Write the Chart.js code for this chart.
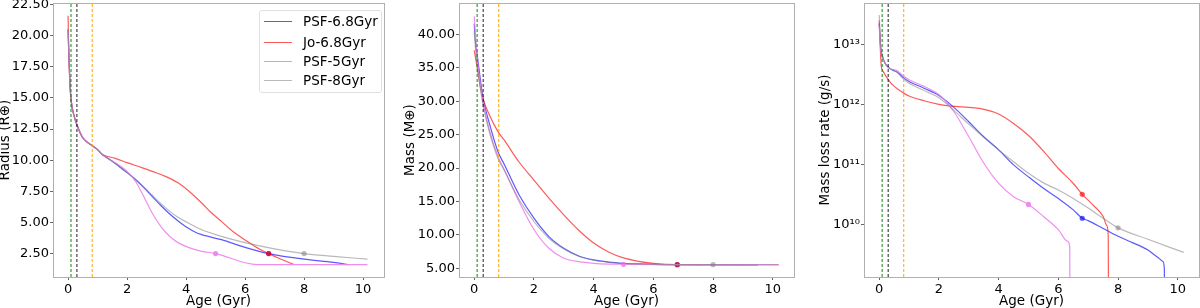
<!DOCTYPE html>
<html>
<head>
<meta charset="utf-8">
<script src="https://cdn.jsdelivr.net/npm/chart.js@4/dist/chart.umd.min.js"></script>
<style>
  body { margin: 0; width: 1200px; height: 308px; overflow: hidden; background: #fff; position: relative; font-family: "DejaVu Sans", sans-serif; }
  canvas { position: absolute; top: 0; }
  #legend { position: absolute; left: 259px; top: 10px; width: 123px; height: 83px; box-sizing: border-box;
            border: 1px solid #e0e0e0; border-radius: 3px; background: rgba(255,255,255,0.8); font-size: 13.5px; }
  #legend .row { position: absolute; left: 0; height: 16px; }
  #legend .swatch { position: absolute; left: 4px; top: 7px; width: 28px; height: 0; border-top-width: 1.5px; border-top-style: solid; }
  #legend .txt { position: absolute; left: 43px; top: -1px; white-space: nowrap; color: #000; }
</style>
</head>
<body>
<canvas id="radiusChart" width="398" height="308" style="left:-3px"></canvas>
<canvas id="massChart" width="398" height="308" style="left:402px"></canvas>
<canvas id="mlrChart" width="383" height="308" style="left:817px"></canvas>
<div id="legend"></div>
<script>
// -------- SERIES --------
const labels = ["PSF-6.8Gyr", "Jo-6.8Gyr", "PSF-5Gyr", "PSF-8Gyr"];
const colors = ["rgba(0,0,255,0.65)", "rgba(255,0,0,0.65)", "rgba(238,130,238,0.9)", "rgba(128,128,128,0.55)"];
const markerAge = [6.8, 6.8, 5, 8];

// vertical dashed lines (Gyr)
const vLines = [0.1, 0.3, 0.82];
const vColors = ["rgba(0,128,0,0.6)", "rgba(0,0,0,0.8)", "rgba(255,165,0,0.9)"];

const ageTicks = [0, 2, 4, 6, 8, 10];
const radiusTicks = [2.5, 5, 7.5, 10, 12.5, 15, 17.5, 20, 22.5];
const massTicks = [5, 10, 15, 20, 25, 30, 35, 40];
const mlrTicks = [1e10, 1e11, 1e12, 1e13];
const mlrTickLabels = ["10\u00b9\u2070", "10\u00b9\u00b9", "10\u00b9\u00b2", "10\u00b9\u00b3"];

// -------- RADIUS --------
const radiusAgeBlue = [0, 0.03, 0.06, 0.1, 0.2, 0.3, 0.5, 0.8, 1.0, 1.17, 1.45, 1.73, 2.0, 2.29, 2.57, 2.85, 3.13, 3.41, 3.7, 3.97, 4.25, 4.53, 5.2, 6.0, 6.8, 8.0, 9.0, 9.5];
const radiusBlue    = [20.5, 18.3, 16.4, 14.9, 13.6, 12.85, 11.8, 11.2, 10.85, 10.43, 10.0, 9.5, 9.0, 8.43, 7.8, 7.09, 6.4, 5.76, 5.17, 4.69, 4.3, 4.02, 3.62, 3.0, 2.5, 2.05, 1.8, 1.62];
const radiusAgeRed  = [0, 0.03, 0.06, 0.1, 0.2, 0.3, 0.5, 0.8, 1.0, 1.17, 1.6, 2.0, 2.5, 2.85, 3.3, 3.74, 4.1, 4.53, 4.85, 5.2, 5.6, 6.0, 6.5, 6.8, 7.2, 7.66];
const radiusRed     = [21.6, 18.3, 16.4, 14.9, 13.6, 12.85, 11.8, 11.2, 10.85, 10.45, 10.15, 9.8, 9.4, 9.1, 8.7, 8.16, 7.5, 6.56, 5.8, 5.09, 4.25, 3.6, 2.85, 2.5, 2.07, 1.62];
const radiusAgePink = [0, 0.03, 0.06, 0.1, 0.2, 0.3, 0.5, 0.8, 1.0, 1.17, 1.45, 1.73, 2.0, 2.29, 2.62, 2.85, 3.18, 3.45, 3.74, 4.1, 4.53, 5.0, 6.4, 10.15];
const radiusPink    = [20.5, 18.3, 16.4, 14.9, 13.6, 12.85, 11.8, 11.2, 10.85, 10.43, 10.0, 9.6, 9.1, 8.29, 6.83, 5.76, 4.56, 3.87, 3.36, 2.98, 2.68, 2.5, 1.62, 1.62];
const radiusAgeGray = [0, 0.03, 0.06, 0.1, 0.2, 0.3, 0.5, 0.8, 1.0, 1.17, 1.45, 1.73, 2.0, 2.29, 2.57, 2.85, 3.13, 3.41, 3.7, 4.0, 4.5, 5.0, 5.5, 6.0, 7.0, 8.0, 9.0, 10.15];
const radiusGray    = [20.5, 18.3, 16.4, 14.9, 13.6, 12.85, 11.8, 11.2, 10.85, 10.43, 10.0, 9.52, 9.02, 8.47, 7.86, 7.2, 6.55, 5.97, 5.45, 5.05, 4.45, 4.02, 3.68, 3.38, 2.88, 2.5, 2.28, 2.05];

// -------- MASS --------
const massAgeBlue = [0, 0.05, 0.1, 0.2, 0.3, 0.5, 0.8, 1.0, 1.5, 2.0, 2.5, 3.0, 3.5, 4.0, 4.5, 5.0, 5.5, 6.0, 6.8, 8.0, 9.5];
const massBlue    = [41.6, 38.4, 36.9, 33.4, 30.3, 26.8, 22.4, 20.6, 16.0, 12.5, 9.75, 8.0, 6.85, 6.25, 5.93, 5.75, 5.65, 5.58, 5.54, 5.52, 5.52];
const massAgeRed  = [0, 0.05, 0.1, 0.2, 0.3, 0.5, 0.8, 1.0, 1.5, 2.0, 2.5, 3.0, 3.5, 4.0, 4.5, 5.0, 5.5, 6.0, 6.8, 7.66];
const massRed     = [37.6, 36.3, 35.0, 32.3, 30.3, 28.0, 25.4, 24.2, 20.9, 18.2, 15.5, 13.0, 10.7, 8.8, 7.45, 6.55, 6.05, 5.75, 5.55, 5.53];
const massAgePink = [0, 0.05, 0.1, 0.2, 0.3, 0.5, 0.8, 1.0, 1.5, 2.0, 2.5, 3.0, 3.5, 4.0, 4.5, 5.0, 6.4, 10.2];
const massPink    = [42.7, 39.5, 36.5, 32.5, 29.8, 25.8, 21.7, 19.8, 15.0, 10.8, 8.0, 6.5, 6.0, 5.75, 5.64, 5.6, 5.55, 5.55];
const massAgeGray = [0, 0.05, 0.1, 0.2, 0.3, 0.5, 0.8, 1.0, 1.5, 2.0, 2.5, 3.0, 3.5, 4.0, 4.5, 5.0, 6.0, 8.0, 10.2];
const massGray    = [40.5, 37.5, 35.5, 32.0, 29.3, 25.5, 21.4, 19.7, 15.3, 12.0, 9.5, 7.9, 6.8, 6.2, 5.9, 5.72, 5.6, 5.54, 5.52];

// -------- MASS LOSS RATE (g/s) --------
const mlrAgeBlue = [0, 0.05, 0.1, 0.2, 0.35, 0.5, 0.6, 0.8, 1.0, 1.5, 2.0, 2.5, 3.0, 3.5, 4.0, 4.5, 5.0, 5.5, 6.0, 6.5, 6.8, 7.0, 7.5, 8.0, 8.5, 9.0, 9.3, 9.5, 9.55, 9.56];
const mlrBlue    = [2.24e13, 8.91e12, 6.61e12, 4.79e12, 3.98e12, 3.63e12, 3.47e12, 2.82e12, 2.4e12, 1.86e12, 1.41e12, 8.91e11, 5.13e11, 2.88e11, 1.74e11, 9.77e10, 6.17e10, 3.98e10, 2.69e10, 1.74e10, 1.26e10, 1.15e10, 8.51e9, 6.31e9, 4.9e9, 3.72e9, 2.88e9, 2.4e9, 1.78e9, 3.16e8];
const mlrAgeRed  = [0, 0.03, 0.07, 0.13, 0.24, 0.4, 0.63, 0.85, 1.0, 1.5, 2.0, 2.4, 3.0, 3.4, 4.0, 4.5, 5.0, 5.5, 6.0, 6.5, 6.8, 7.2, 7.5, 7.62, 7.67, 7.68];
const mlrRed     = [2.51e13, 1e13, 4.27e12, 3.55e12, 2.88e12, 2.24e12, 1.78e12, 1.51e12, 1.38e12, 1.15e12, 1e12, 9.33e11, 8.91e11, 8.51e11, 6.92e11, 4.79e11, 3.02e11, 1.66e11, 8.51e10, 4.79e10, 3.16e10, 2e10, 1.35e10, 9.55e9, 6.31e9, 3.16e8];
const mlrAgePink = [0, 0.05, 0.1, 0.2, 0.35, 0.5, 0.6, 0.8, 1.0, 1.5, 1.9, 2.1, 2.5, 3.0, 3.5, 4.0, 4.5, 5.0, 5.5, 6.0, 6.3, 6.38, 6.39];
const mlrPink    = [2e13, 7.94e12, 6.31e12, 4.79e12, 3.98e12, 3.8e12, 3.63e12, 3.02e12, 2.57e12, 2e12, 1.58e12, 1.32e12, 7.59e11, 2.88e11, 1.05e11, 4.79e10, 2.88e10, 2.14e10, 1.35e10, 8.13e9, 5.25e9, 4.27e9, 3.16e8];
const mlrAgeGray = [0, 0.05, 0.1, 0.2, 0.35, 0.6, 0.8, 1.0, 1.5, 2.0, 2.5, 3.0, 3.5, 4.0, 4.5, 5.0, 5.5, 6.0, 6.5, 7.0, 7.5, 8.0, 9.0, 10.2];
const mlrGray    = [3.09e13, 8.91e12, 6.31e12, 4.79e12, 3.98e12, 3.39e12, 2.69e12, 2.24e12, 1.7e12, 1.29e12, 7.94e11, 4.68e11, 2.82e11, 1.74e11, 1.1e11, 7.08e10, 4.9e10, 3.72e10, 2.69e10, 1.86e10, 1.26e10, 8.71e9, 5.62e9, 3.39e9];

// -------- HELPERS --------
const font = { family: "DejaVu Sans", size: 13 };
const titleFont = { family: "DejaVu Sans", size: 13.5 };

function pts(ages, vals) {
    return ages.map((a, i) => ({ x: a, y: vals[i] }));
}

const framePlugin = {
    id: "frame",
    afterDatasetsDraw(chart) {
        const { ctx, chartArea: a } = chart;
        ctx.save();
        ctx.strokeStyle = "#b0b0b0";
        ctx.lineWidth = 1;
        ctx.strokeRect(Math.round(a.left) + 0.5, Math.round(a.top) + 0.5,
            Math.round(a.right - a.left), Math.round(a.bottom - a.top));
        ctx.restore();
    }
};

function makeChart(id, series, cfg) {
    const datasets = series.map((s, k) => ({
        label: labels[k],
        data: pts(s[0], s[1]),
        borderColor: colors[k],
        backgroundColor: colors[k],
        borderWidth: 1.2,
        pointRadius: c => (c.raw && c.raw.x === markerAge[k]) ? 2.6 : 0,
        pointBorderWidth: 0,
        pointHoverRadius: 0,
        cubicInterpolationMode: "monotone",
        order: 4 - k
    }));
    vLines.forEach((a, k) => datasets.push({
        label: "v" + k,
        data: [{ x: a, y: cfg.min }, { x: a, y: cfg.max }],
        borderColor: vColors[k],
        borderWidth: k === 0 ? 1.6 : 1.1,
        borderDash: [3, 2],
        pointRadius: 0,
        order: 0
    }));

    new Chart(document.getElementById(id), {
        type: "line",
        data: { datasets },
        plugins: [framePlugin],
        options: {
            responsive: false,
            animation: false,
            events: [],
            layout: { padding: { top: 3, right: cfg.padRight, left: 0, bottom: 0 } },
            plugins: { legend: { display: false }, tooltip: { enabled: false } },
            scales: {
                x: {
                    type: "linear", min: -0.51, max: 10.71,
                    afterBuildTicks: s => { s.ticks = ageTicks.map(v => ({ value: v })); },
                    afterFit: s => { s.height = 31; s.paddingLeft = 0; s.paddingRight = 0; },
                    ticks: { font, color: "#000", padding: 2, maxRotation: 0, autoSkip: false, callback: v => String(v) },
                    grid: { drawOnChartArea: false, drawTicks: true, tickLength: 3, color: "#666" },
                    border: { display: false },
                    title: { display: true, text: "Age (Gyr)", font: titleFont, color: "#000", padding: { top: 0, bottom: -2 } }
                },
                y: {
                    type: cfg.type, min: cfg.min, max: cfg.max,
                    afterBuildTicks: s => { s.ticks = cfg.ticks.map(v => ({ value: v })); },
                    afterFit: s => { s.width = cfg.yWidth; s.paddingTop = 0; s.paddingBottom = 0; },
                    ticks: { font, color: "#000", padding: 1, autoSkip: false, callback: cfg.fmt },
                    grid: { drawOnChartArea: false, drawTicks: true, tickLength: 3, color: "#666" },
                    border: { display: false },
                    title: { display: true, text: cfg.title, font: titleFont, color: "#000", padding: { top: 0, bottom: 0 } }
                }
            }
        }
    });
}

// -------- CHARTS --------
makeChart("radiusChart", [
    [radiusAgeBlue, radiusBlue], [radiusAgeRed, radiusRed], [radiusAgePink, radiusPink], [radiusAgeGray, radiusGray]
], { type: "linear", min: 0.62, max: 22.62, ticks: radiusTicks, fmt: v => v.toFixed(2),
     title: "Radius (R\u2295)", yWidth: 56, padRight: 11 });

makeChart("massChart", [
    [massAgeBlue, massBlue], [massAgeRed, massRed], [massAgePink, massPink], [massAgeGray, massGray]
], { type: "linear", min: 3.7, max: 44.68, ticks: massTicks, fmt: v => v.toFixed(2),
     title: "Mass (M\u2295)", yWidth: 57, padRight: 6 });

makeChart("mlrChart", [
    [mlrAgeBlue, mlrBlue], [mlrAgeRed, mlrRed], [mlrAgePink, mlrPink], [mlrAgeGray, mlrGray]
], { type: "logarithmic", min: 1.32e9, max: 4.9e13, ticks: mlrTicks, fmt: (v, i) => mlrTickLabels[i],
     title: "Mass loss rate (g/s)", yWidth: 47, padRight: 1 });

// -------- LEGEND --------
const legend = document.getElementById("legend");
const rowTop = [3, 23.5, 43, 62];
legend.innerHTML = labels.map((l, k) => `
  <div class="row" style="top:${rowTop[k]}px">
    <div class="swatch" style="border-top-color:${colors[k]}"></div>
    <div class="txt">${l}</div>
  </div>`).join("");
</script>
</body>
</html>
